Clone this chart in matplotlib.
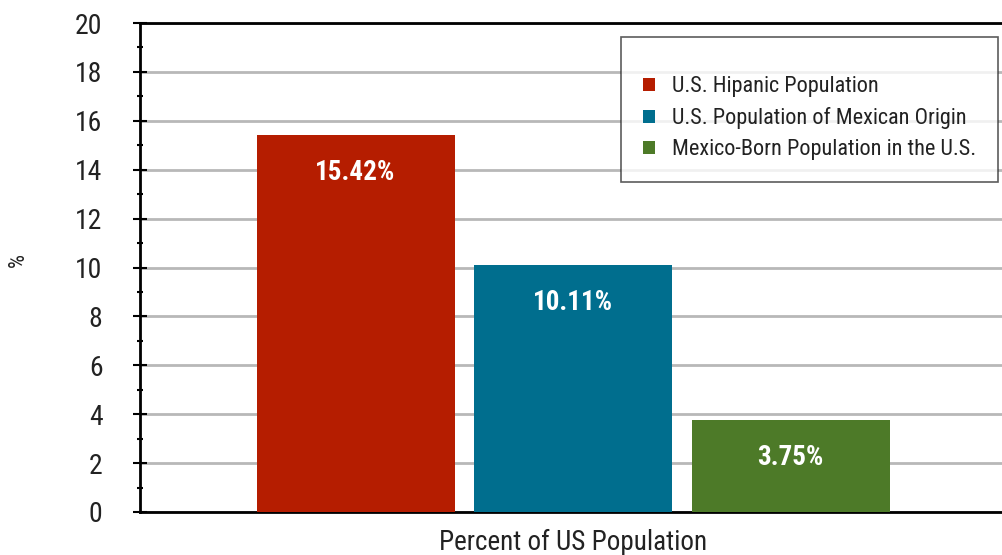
import matplotlib
matplotlib.use("Agg")
import matplotlib.pyplot as plt
from matplotlib.ticker import MultipleLocator

series = ["U.S. Hipanic Population", "U.S. Population of Mexican Origin", "Mexico-Born Population in the U.S."]
values = [15.42, 10.11, 3.75]
labels = ["15.42%", "10.11%", "3.75%"]
colors = ["#B51D00", "#006E8E", "#4D7A28"]
category = "Percent of US Population"
yticks = [0, 2, 4, 6, 8, 10, 12, 14, 16, 18, 20]

fam = ["Liberation Sans Narrow", "Roboto Condensed", "Roboto", "DejaVu Sans"]
plt.rcParams["font.family"] = fam

fig = plt.figure(figsize=(10.02, 5.55), dpi=100)
ax = fig.add_axes([140/1002, 1-512/555, 866/1002, (512-23)/555])

w = 198/866
step = 217.5/866
for i, (s, v, c, lab) in enumerate(zip(series, values, colors, labels)):
    x = (i-1)*step
    ax.bar(x, v, width=w, color=c, label=s, zorder=3)
    ax.annotate(lab, (x, v), xytext=(0, -27), textcoords="offset points",
                ha="center", va="center", color="white", fontsize=19.5, fontweight="bold", zorder=4)

ax.set_xlim(-0.5, 0.5)
ax.set_ylim(0, 20)
ax.set_yticks(yticks)
ax.yaxis.set_minor_locator(MultipleLocator(1))
ax.tick_params(axis="y", which="major", direction="inout", length=10, width=1.5, labelsize=20, pad=22, colors="black", labelcolor="#222222")
ax.tick_params(axis="y", which="minor", direction="inout", length=5, width=1.5)
ax.set_xticks([])
ax.grid(axis="y", color="#b8b8b8", linewidth=2, zorder=0)
for sp in ["top", "bottom", "left"]:
    ax.spines[sp].set_linewidth(2)
    ax.spines[sp].set_color("black")
ax.spines["right"].set_visible(False)
ax.set_xlabel(category, fontsize=19.5, color="#222222", labelpad=12)
ax.set_ylabel("%", fontsize=16, color="#222222", va="center")
ax.yaxis.set_label_coords(18/1002, 1-260/555, transform=fig.transFigure)

leg = ax.legend(loc="upper right", bbox_to_anchor=(998/1002, 1-37/555), bbox_transform=fig.transFigure,
                fontsize=16, frameon=True, fancybox=False, edgecolor="#333333", handlelength=0.55, handleheight=0.55,
                handletextpad=0.75, borderpad=1.0, labelspacing=0.45, borderaxespad=0,
                title=" ", title_fontsize=5)
leg.get_frame().set_linewidth(1.2)
for t in leg.get_texts():
    t.set_color("#222222")

fig.savefig("out.png", dpi=100)
